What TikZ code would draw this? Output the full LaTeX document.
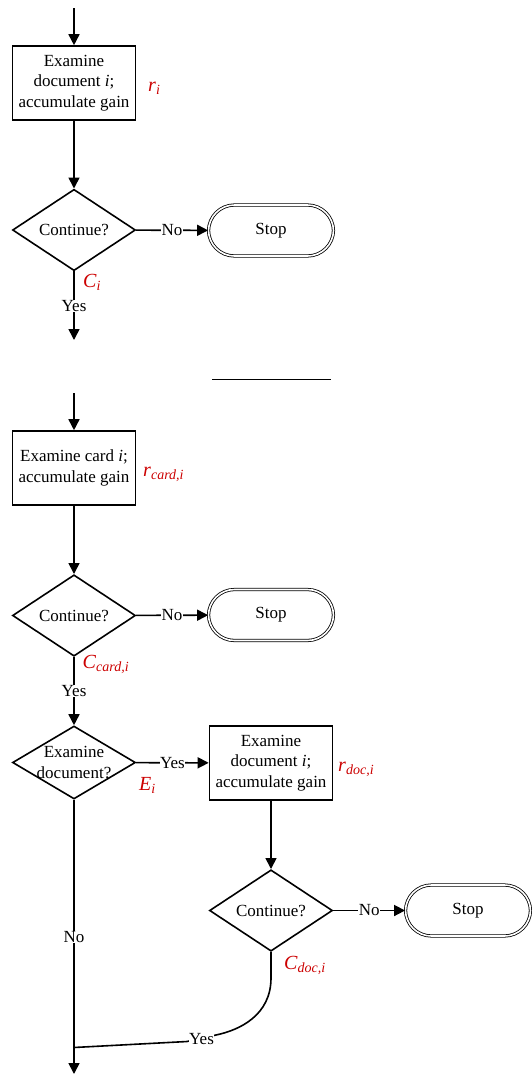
\documentclass[tikz,border=0pt]{standalone}
\usepackage{fontspec}
\setmainfont{Liberation Serif}
\usetikzlibrary{arrows.meta,shapes.geometric}
\definecolor{lblred}{RGB}{204,0,0}
\tikzset{
  procbox/.style={draw, line width=1.6pt, minimum width=123pt, minimum height=74pt, align=center, inner sep=0pt},
  decision/.style={draw, diamond, line width=1.6pt, minimum width=123pt, minimum height=73pt, inner sep=0pt, align=center},
  stopnode/.style={draw, rounded corners=26pt, double, double distance=1.6pt, line width=0.8pt, minimum width=125pt, minimum height=51pt},
  flow/.style={line width=1.6pt, -{Triangle[length=11pt,width=11pt]}},
  edgelbl/.style={fill=white, inner sep=0.5pt},
  varlbl/.style={text=lblred, anchor=base west, inner sep=0pt, font=\fontsize{20}{24}\selectfont}
}
\begin{document}
\begin{tikzpicture}[x=1pt, y=-1pt, every node/.style={font=\fontsize{17}{20.5}\selectfont}]
    \useasboundingbox (0,0) rectangle (532,1074);

    \coordinate (topIn) at (74,8);
    \node [procbox] (examDoc) at (74,83) {Examine\\document \textit{i};\\accumulate gain};
    \node [decision] (contDoc) at (74,230) {Continue?};
    \node [stopnode] (stopA) at (271,230.5) {Stop};
    \coordinate (outA) at (74,340);
    \node [varlbl] (rLbl) at (148,91.5) {\textit{r}\textsubscript{\textit{i}}};
    \node [varlbl] (cLbl) at (83,287) {\textit{C}\textsubscript{\textit{i}}};
    \draw [flow] (topIn) -- (examDoc);
    \draw [flow] (examDoc) -- (contDoc);
    \draw [flow] (contDoc) -- node [edgelbl] {No} (stopA);
    \draw [flow] (contDoc) -- node [edgelbl] {Yes} (outA);

    \draw [line width=1pt] (212,379) -- (331,379);

    \coordinate (topIn2) at (74,393);
    \node [procbox] (examCard) at (74,468) {Examine card \textit{i};\\accumulate gain};
    \node [decision] (contCard) at (74,615.5) {Continue?};
    \node [stopnode] (stopB) at (271,615) {Stop};
    \node [decision, label={[align=center]center:Examine\\document?}] (askDoc) at (74,762.5) {};
    \node [procbox] (examDoc2) at (271,763) {Examine\\document \textit{i};\\accumulate gain};
    \node [decision] (contDoc2) at (271,910.5) {Continue?};
    \node [stopnode] (stopC) at (468,910.5) {Stop};
    \coordinate (joinPt) at (74,1047.5);
    \coordinate (outB) at (74,1074);
    \node [varlbl] (rCardLbl) at (143,476.5) {\textit{r}\textsubscript{\textit{card,i}}};
    \node [varlbl] (cCardLbl) at (82.5,668) {\textit{C}\textsubscript{\textit{card,i}}};
    \node [varlbl] (eLbl) at (139,790) {\textit{E}\textsubscript{\textit{i}}};
    \node [varlbl] (rDocLbl) at (338,771.5) {\textit{r}\textsubscript{\textit{doc,i}}};
    \node [varlbl] (cDocLbl) at (284,969) {\textit{C}\textsubscript{\textit{doc,i}}};
    \draw [flow] (topIn2) -- (examCard);
    \draw [flow] (examCard) -- (contCard);
    \draw [flow] (contCard) -- node [edgelbl] {No} (stopB);
    \draw [flow] (contCard) -- node [edgelbl] {Yes} (askDoc);
    \draw [flow] (askDoc) -- node [edgelbl] {Yes} (examDoc2);
    \draw [flow] (examDoc2) -- (contDoc2);
    \draw [flow] (contDoc2) -- node [edgelbl] {No} (stopC);
    \draw [flow] (askDoc) -- node [edgelbl] {No} (outB);
    \draw [line width=1.6pt] (contDoc2.south) -- (271,978) .. controls (271,1015) and (240,1030) .. (216,1035) -- (187,1041.5) -- (joinPt);
    \node [edgelbl] (yesDoc) at (201.5,1039) {Yes};
\end{tikzpicture}
\end{document}
